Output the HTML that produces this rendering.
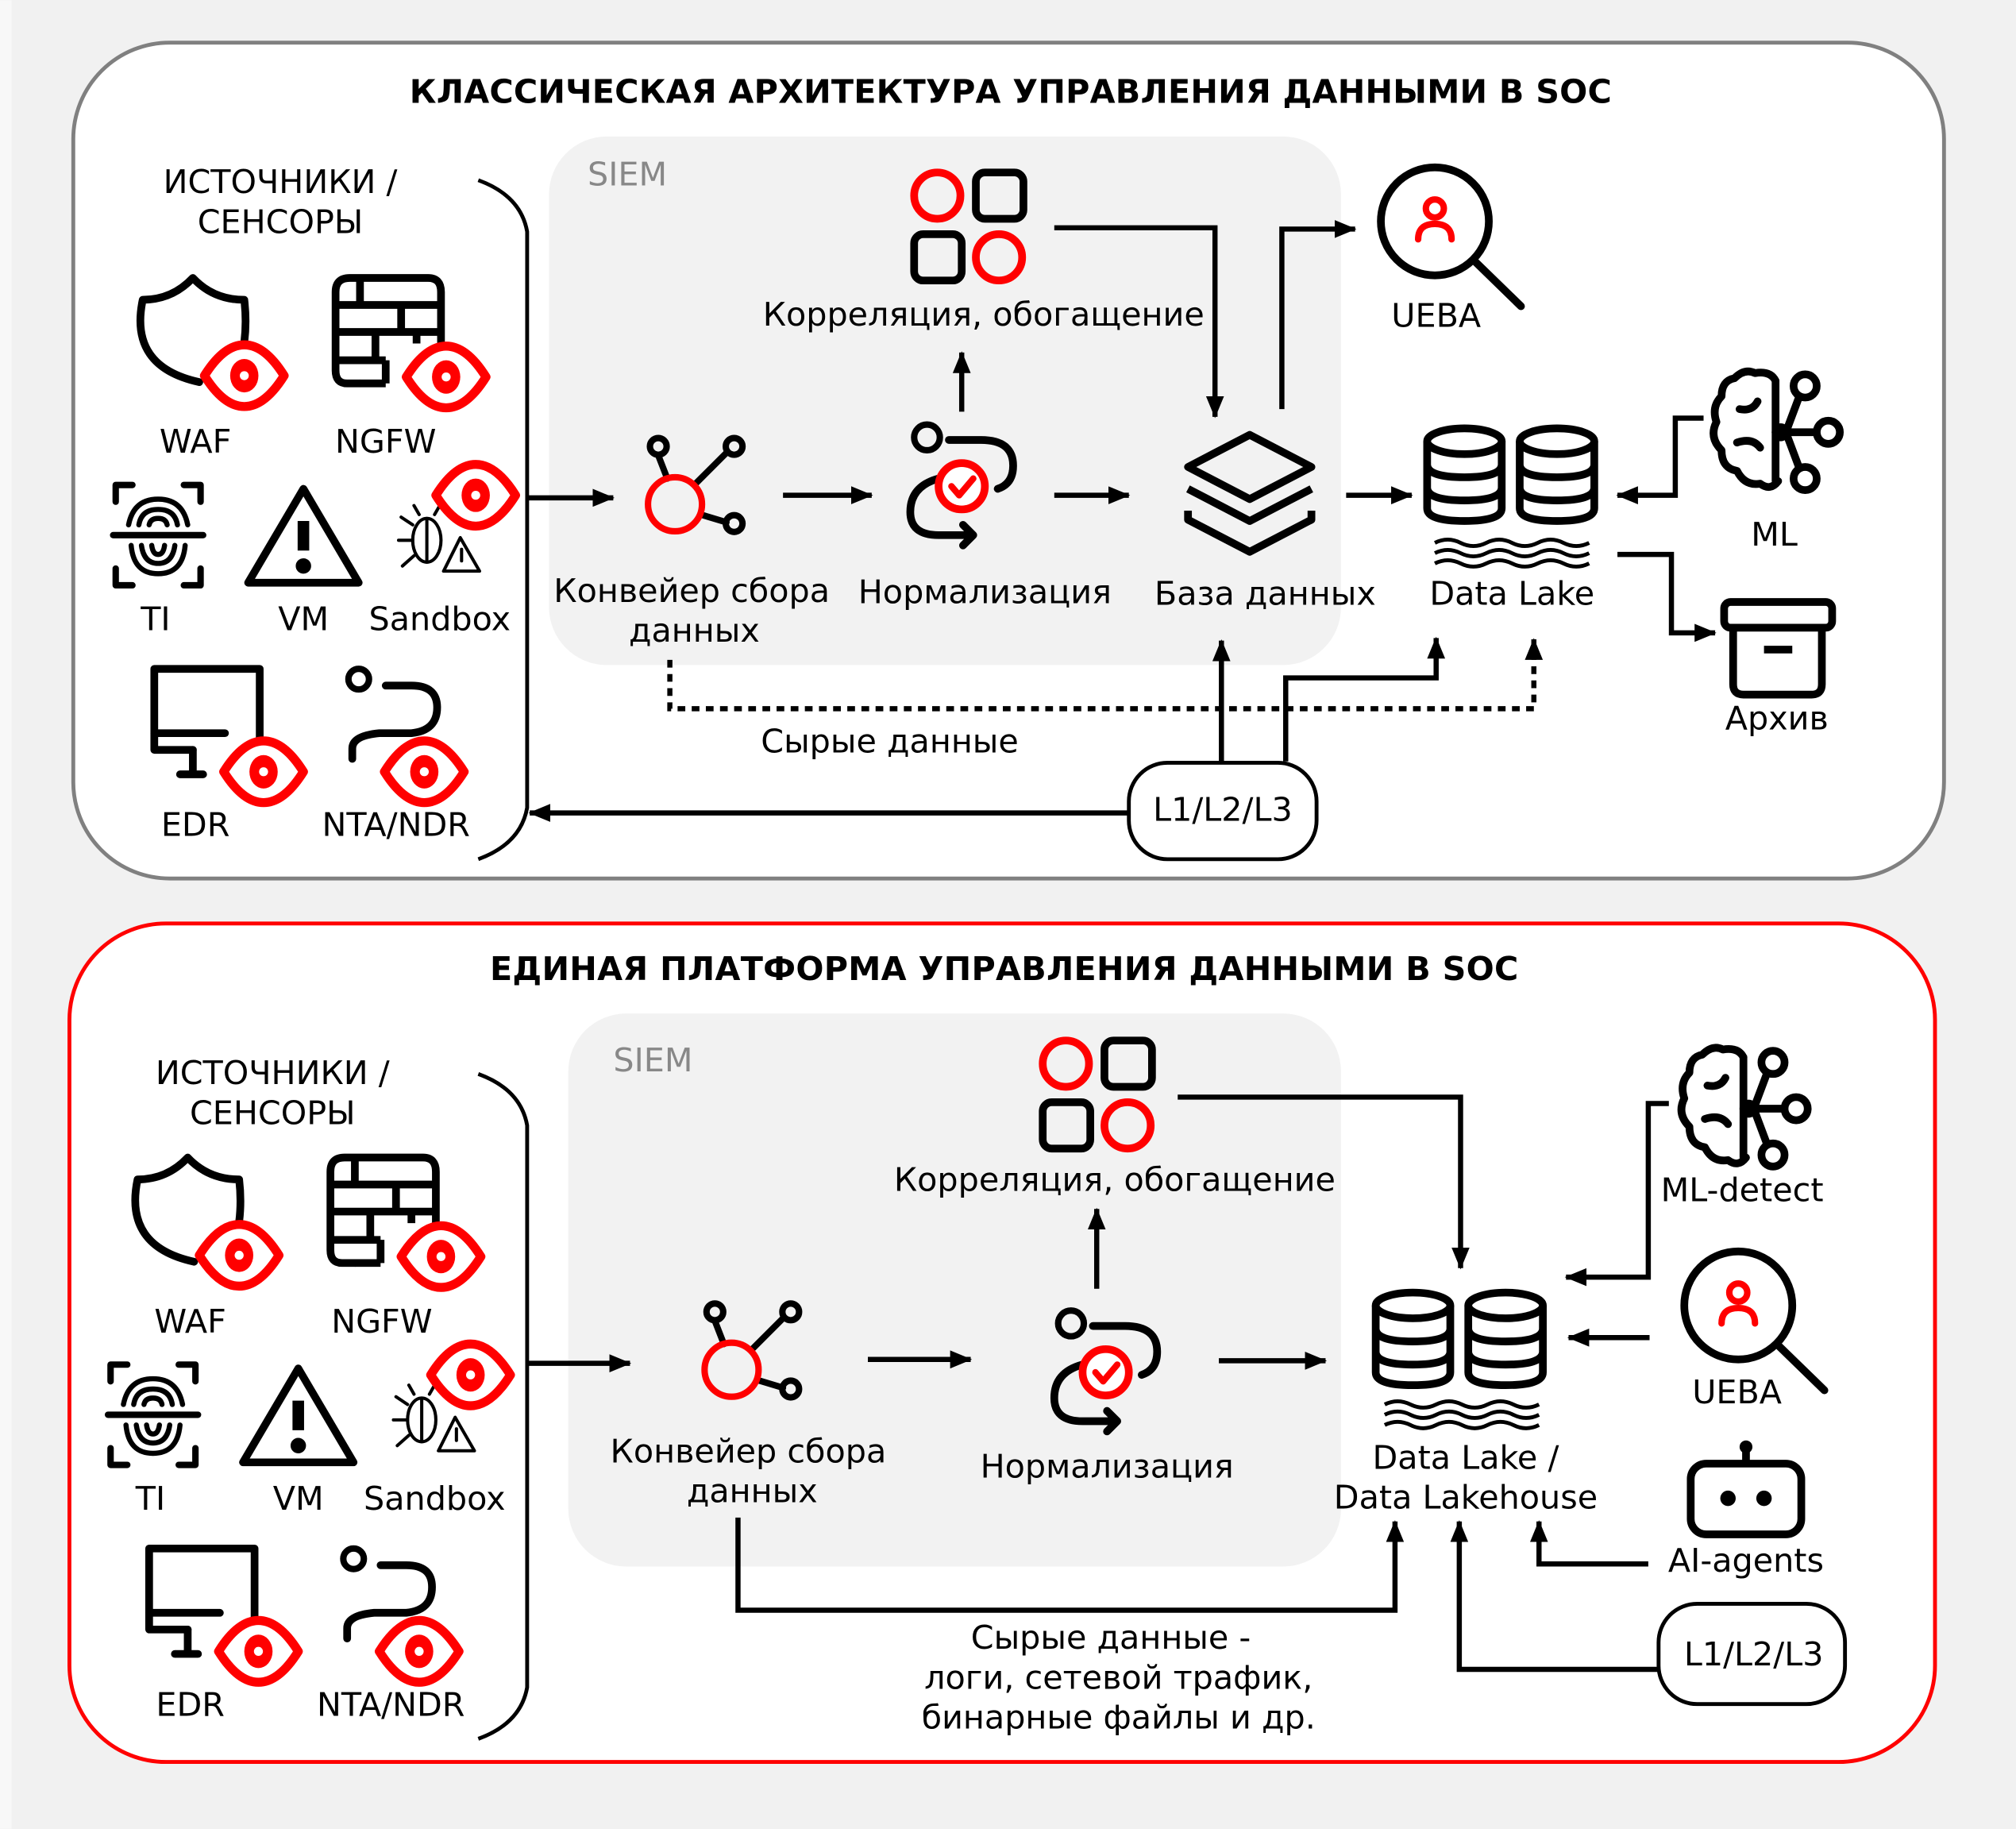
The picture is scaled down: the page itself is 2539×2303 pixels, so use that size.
<!DOCTYPE html>
<html><head><meta charset="utf-8"><style>
html,body{margin:0;padding:0;background:#f1f1f1}
svg{display:block}
text{font-family:"DejaVu Sans","Liberation Sans",sans-serif;font-size:25.5px;fill:#000}
</style></head><body>
<svg width="2539" height="2303" viewBox="0 0 1568 1422" xmlns="http://www.w3.org/2000/svg">
<defs>
<marker id="ah" markerUnits="userSpaceOnUse" markerWidth="18" markerHeight="16" refX="16" refY="8" orient="auto">
<path d="M0,1 L17,8 L0,15 Z" fill="#000" stroke="none"/>
</marker>
<symbol id="eye" overflow="visible">
<path d="M-31,0 Q-16,-24 0,-24 Q16,-24 31,0 Q16,24 0,24 Q-16,24 -31,0Z" fill="#fff" stroke="#f00" stroke-width="7" stroke-linejoin="round"/>
<ellipse cx="0" cy="0" rx="11" ry="13" fill="#f00" stroke="none"/><circle cx="0" cy="0" r="3.5" fill="#fff" stroke="none"/>
</symbol>
<g id="sources" fill="none" stroke="#000" stroke-width="6" stroke-linecap="round" stroke-linejoin="round">
<path d="M190,266 Q192,250 190,233 Q166,233 150,216 Q134,233 111,233 Q100,285 155,297"/>
<use href="#eye" x="190" y="292"/>
<path d="M280,298 H270 Q261,298 261,288 V227 Q261,216 272,216 H333 Q343,216 343,227 V278"/>
<path d="M261,237 H343 M261,258 H343 M261,280 H300 M280,216 V237 M312,237 V258 M292,258 V280 M324,258 V267 M300,280 V298 M280,298 H300" stroke-linecap="butt"/>
<use href="#eye" x="347" y="293"/>
<path d="M90,390 V377 H103 M143,377 H156 V390 M90,442 V455 H103 M143,455 H156 V442" stroke-width="5"/>
<path d="M88,416 H158" stroke-width="5"/>
<path d="M100,408 Q104,388 123,388 Q142,388 146,408 M108,408 Q110,396 123,396 Q136,396 138,408 M116,408 Q117,403 123,403 Q129,403 130,408" stroke-width="4"/>
<path d="M102,424 Q104,446 123,446 Q142,446 144,424 M110,424 Q112,438 123,438 Q134,438 136,424 M118,424 Q119,431 123,431 Q127,431 128,424" stroke-width="4"/>
<path d="M236,380 L193,453 H279 Z"/>
<path d="M236,405 V428" stroke-width="9" stroke-linecap="butt"/>
<circle cx="236" cy="440" r="3" fill="#000"/>
<g stroke-width="2.5">
<ellipse cx="332" cy="420" rx="11" ry="17"/>
<path d="M321,408 L312,402 M321,420 L310,420 M322,432 L313,440 M332,403 V437 M326,400 L322,393 M338,400 L342,393"/>
<path d="M358,418 L345,444 H373 Z"/><path d="M359,427 V436"/>
</g>
<use href="#eye" x="370" y="385"/>
<path d="M150,583 H120 V520 H202 V578"/><path d="M120,570 H175" />
<path d="M150,583 V600 M140,602 H158"/>
<use href="#eye" x="205" y="600"/>
<circle cx="279" cy="528" r="8" stroke-width="5"/>
<path d="M300,533 H320 Q340,533 340,550 Q340,568 320,570 H295 Q274,572 274,582 V590"/>
<use href="#eye" x="330" y="600"/>
</g>
<symbol id="pipe" overflow="visible">
<g fill="none" stroke="#000" stroke-width="5" stroke-linecap="round">
<path d="M-6,-20 L-13,-38 M15,-15 L40,-40 M20,8 L40,14"/>
<circle cx="-13" cy="-45" r="6.5"/><circle cx="46" cy="-45" r="6.5"/><circle cx="46" cy="15" r="6.5"/>
<circle cx="0" cy="0" r="21" stroke="#f00" stroke-width="5"/>
</g>
</symbol>
<symbol id="norm" overflow="visible">
<g fill="none" stroke="#000" stroke-width="6" stroke-linecap="round" stroke-linejoin="round">
<circle cx="-27" cy="-38" r="10" stroke-width="5"/>
<path d="M-10,-36 H15 Q40,-36 40,-16 Q40,-2 28,2"/>
<path d="M-18,-6 Q-40,0 -40,20 Q-40,38 -18,38 H8 M1,30 L9,38 L1,46"/>
<circle cx="0" cy="0" r="18" stroke="#f00" fill="#fff"/>
<path d="M-8,0 L-2,7 L9,-6" stroke="#f00" stroke-width="5"/>
</g>
</symbol>
<symbol id="corr" overflow="visible">
<g fill="none" stroke-width="6">
<circle cx="0" cy="0" r="18" stroke="#f00"/>
<rect x="30" y="-18" width="37" height="36" rx="7" stroke="#000"/>
<rect x="-18" y="30" width="37" height="36" rx="7" stroke="#000"/>
<circle cx="48" cy="48" r="18" stroke="#f00"/>
</g>
</symbol>
<symbol id="cyl" overflow="visible">
<g fill="none" stroke="#000" stroke-width="6">
<ellipse cx="0" cy="0" rx="29" ry="10"/>
<path d="M-29,0 V52 Q-29,62 0,62 Q29,62 29,52 V0 M-29,18 Q-29,28 0,28 Q29,28 29,18 M-29,36 Q-29,46 0,46 Q29,46 29,36"/>
</g>
</symbol>
<symbol id="waves" overflow="visible">
<g fill="none" stroke="#000" stroke-width="3">
<path d="M0,0 q10,-5 20,0 t20,0 t20,0 t20,0 t20,0 t20,0"/>
<path d="M0,8 q10,-5 20,0 t20,0 t20,0 t20,0 t20,0 t20,0"/>
<path d="M0,16 q10,-5 20,0 t20,0 t20,0 t20,0 t20,0 t20,0"/>
</g>
</symbol>
<symbol id="brain" overflow="visible">
<g fill="none" stroke="#000" stroke-width="6" stroke-linecap="round" stroke-linejoin="round">
<path d="M48,6 Q44,-2 32,0 Q24,-4 16,4 Q6,6 6,18 Q-2,26 2,38 Q-4,50 6,60 Q6,74 18,76 Q24,88 36,86 Q44,92 50,84"/>
<path d="M48,6 V84 M20,28 Q30,30 34,22 M18,54 Q30,50 36,58"/>
<path d="M48,46 H62 M56,46 L68,14 M56,46 L68,78 M56,46 H80"/>
<circle cx="71" cy="10" r="9" fill="#fff"/><circle cx="89" cy="46" r="9" fill="#fff"/><circle cx="71" cy="82" r="9" fill="#fff"/>
<circle cx="52" cy="46" r="4" fill="#000"/>
</g>
</symbol>
<symbol id="ueba" overflow="visible">
<g fill="none" stroke-width="6" stroke-linecap="round">
<circle cx="0" cy="0" r="42" stroke="#000"/>
<path d="M30,30 L67,66" stroke="#000"/>
<circle cx="0" cy="-10" r="7" stroke="#f00" stroke-width="5"/>
<path d="M-13,14 Q-13,2 0,2 Q13,2 13,14" stroke="#f00" stroke-width="5"/>
</g>
</symbol>
</defs>

<rect width="1568" height="1422" fill="#f1f1f1"/>
<rect width="9" height="1422" fill="#f8f8f8"/>

<rect x="57" y="33" width="1455" height="650" rx="75" fill="#fff" stroke="#808080" stroke-width="3"/>
<text x="786" y="80" text-anchor="middle" font-weight="bold" font-size="25" textLength="935">КЛАССИЧЕСКАЯ АРХИТЕКТУРА УПРАВЛЕНИЯ ДАННЫМИ В SOC</text>
<rect x="427" y="106" width="616" height="411" rx="45" fill="#f2f2f2"/>
<text x="457" y="144" style="fill:#888">SIEM</text>

<text x="218" y="150" text-anchor="middle">ИСТОЧНИКИ /</text>
<text x="218" y="181" text-anchor="middle">СЕНСОРЫ</text>
<path d="M372,140 Q405,152 410,180 V628 Q405,656 372,668" fill="none" stroke="#000" stroke-width="3"/>
<use href="#sources"/>
<text x="152" y="352" text-anchor="middle">WAF</text>
<text x="300" y="352" text-anchor="middle">NGFW</text>
<text x="121" y="490" text-anchor="middle">TI</text>
<text x="236" y="490" text-anchor="middle">VM</text>
<text x="342" y="490" text-anchor="middle">Sandbox</text>
<text x="152" y="650" text-anchor="middle">EDR</text>
<text x="308" y="650" text-anchor="middle">NTA/NDR</text>

<g fill="none" stroke="#000" stroke-width="4">
<path d="M410,387 H477" marker-end="url(#ah)"/>
<path d="M609,385 H678" marker-end="url(#ah)"/>
<path d="M748,320 V274" marker-end="url(#ah)"/>
<path d="M820,177 H945 V324" marker-end="url(#ah)"/>
<path d="M820,385 H878" marker-end="url(#ah)"/>
<path d="M997,318 V178 H1054" marker-end="url(#ah)"/>
<path d="M1047,385 H1098" marker-end="url(#ah)"/>
<path d="M1325,325 H1303 V385 H1258" marker-end="url(#ah)"/>
<path d="M1258,431 H1300 V492 H1334" marker-end="url(#ah)"/>
<path d="M521,513 V551 H1193 V497" stroke-dasharray="6,5" marker-end="url(#ah)"/>
<path d="M950,592 V498" marker-end="url(#ah)"/>
<path d="M1000,592 V527 H1117 V496" marker-end="url(#ah)"/>
<path d="M878,632 H412" marker-end="url(#ah)"/>
</g>
<use href="#pipe" x="525" y="392"/>
<text x="538" y="468" text-anchor="middle">Конвейер сбора</text>
<text x="540" y="499" text-anchor="middle">данных</text>
<use href="#norm" x="748" y="378"/>
<text x="766" y="469" text-anchor="middle">Нормализация</text>
<use href="#corr" x="729" y="152"/>
<text x="765" y="253" text-anchor="middle">Корреляция, обогащение</text>
<g fill="none" stroke="#000" stroke-width="6" stroke-linejoin="round">
<path d="M972,338 L1020,363 L972,388 L924,363 Z"/>
<path d="M924,380 L972,405 L1020,380"/>
<path d="M924,397 V404 L972,429 L1020,404 V397"/>
</g>
<text x="984" y="470" text-anchor="middle">База данных</text>
<use href="#ueba" x="1116" y="172"/>
<text x="1117" y="254" text-anchor="middle">UEBA</text>
<use href="#cyl" x="1139" y="343"/><use href="#cyl" x="1211" y="343"/>
<use href="#waves" x="1116" y="422"/>
<text x="1176" y="470" text-anchor="middle">Data Lake</text>
<use href="#brain" x="1333" y="290"/>
<text x="1380" y="424" text-anchor="middle">ML</text>
<g fill="none" stroke="#000" stroke-width="6" stroke-linejoin="round">
<rect x="1341" y="468" width="84" height="20" rx="5"/>
<path d="M1348,488 V532 Q1348,540 1356,540 H1409 Q1417,540 1417,532 V488 M1372,505 H1394"/>
</g>
<text x="1382" y="567" text-anchor="middle">Архив</text>
<text x="692" y="585" text-anchor="middle">Сырые данные</text>
<rect x="878" y="593" width="146" height="75" rx="30" fill="#fff" stroke="#000" stroke-width="3"/>
<text x="951" y="638" text-anchor="middle">L1/L2/L3</text>

<rect x="54" y="718" width="1451" height="652" rx="75" fill="#fff" stroke="#f00" stroke-width="3"/>
<text x="781" y="762" text-anchor="middle" font-weight="bold" font-size="25" textLength="800">ЕДИНАЯ ПЛАТФОРМА УПРАВЛЕНИЯ ДАННЫМИ В SOC</text>
<rect x="442" y="788" width="601" height="430" rx="45" fill="#f2f2f2"/>
<text x="477" y="833" style="fill:#888">SIEM</text>

<text x="212" y="843" text-anchor="middle">ИСТОЧНИКИ /</text>
<text x="212" y="874" text-anchor="middle">СЕНСОРЫ</text>
<path d="M372,835 Q405,847 410,875 V1312 Q405,1340 372,1352" fill="none" stroke="#000" stroke-width="3"/>
<use href="#sources" transform="translate(-4,684)"/>
<text x="148" y="1036" text-anchor="middle">WAF</text>
<text x="297" y="1036" text-anchor="middle">NGFW</text>
<text x="117" y="1174" text-anchor="middle">TI</text>
<text x="232" y="1174" text-anchor="middle">VM</text>
<text x="338" y="1174" text-anchor="middle">Sandbox</text>
<text x="148" y="1334" text-anchor="middle">EDR</text>
<text x="304" y="1334" text-anchor="middle">NTA/NDR</text>

<g fill="none" stroke="#000" stroke-width="4">
<path d="M410,1060 H490" marker-end="url(#ah)"/>
<path d="M675,1057 H755" marker-end="url(#ah)"/>
<path d="M853,1002 V940" marker-end="url(#ah)"/>
<path d="M916,853 H1136 V986" marker-end="url(#ah)"/>
<path d="M948,1058 H1031" marker-end="url(#ah)"/>
<path d="M1298,858 H1282 V993 H1218" marker-end="url(#ah)"/>
<path d="M1283,1040 H1220" marker-end="url(#ah)"/>
<path d="M1282,1216 H1197 V1183" marker-end="url(#ah)"/>
<path d="M1290,1298 H1135 V1183" marker-end="url(#ah)"/>
<path d="M574,1180 V1252 H1085 V1183" marker-end="url(#ah)"/>
</g>
<use href="#pipe" x="569" y="1065"/>
<text x="582" y="1137" text-anchor="middle">Конвейер сбора</text>
<text x="585" y="1168" text-anchor="middle">данных</text>
<use href="#norm" x="860" y="1067"/>
<text x="861" y="1149" text-anchor="middle">Нормализация</text>
<use href="#corr" x="829" y="827"/>
<text x="867" y="926" text-anchor="middle">Корреляция, обогащение</text>
<use href="#cyl" x="1099" y="1015"/><use href="#cyl" x="1171" y="1015"/>
<use href="#waves" x="1077" y="1092"/>
<text x="1140" y="1142" text-anchor="middle">Data Lake /</text>
<text x="1140" y="1173" text-anchor="middle">Data Lakehouse</text>
<use href="#brain" x="1308" y="816"/>
<text x="1355" y="934" text-anchor="middle">ML-detect</text>
<use href="#ueba" x="1352" y="1015"/>
<text x="1351" y="1091" text-anchor="middle">UEBA</text>
<g fill="none" stroke="#000" stroke-width="6">
<rect x="1315" y="1138" width="86" height="55" rx="12"/>
<path d="M1358,1128 V1138"/>
</g>
<circle cx="1358" cy="1125" r="5" fill="#000"/>
<circle cx="1344" cy="1165" r="6" fill="#000"/><circle cx="1372" cy="1165" r="6" fill="#000"/>
<text x="1358" y="1222" text-anchor="middle">AI-agents</text>
<rect x="1290" y="1247" width="145" height="78" rx="30" fill="#fff" stroke="#000" stroke-width="3"/>
<text x="1364" y="1295" text-anchor="middle">L1/L2/L3</text>
<text x="864" y="1282" text-anchor="middle">Сырые данные -</text>
<text x="870" y="1313" text-anchor="middle">логи, сетевой трафик,</text>
<text x="870" y="1344" text-anchor="middle">бинарные файлы и др.</text>
</svg>
</body></html>
